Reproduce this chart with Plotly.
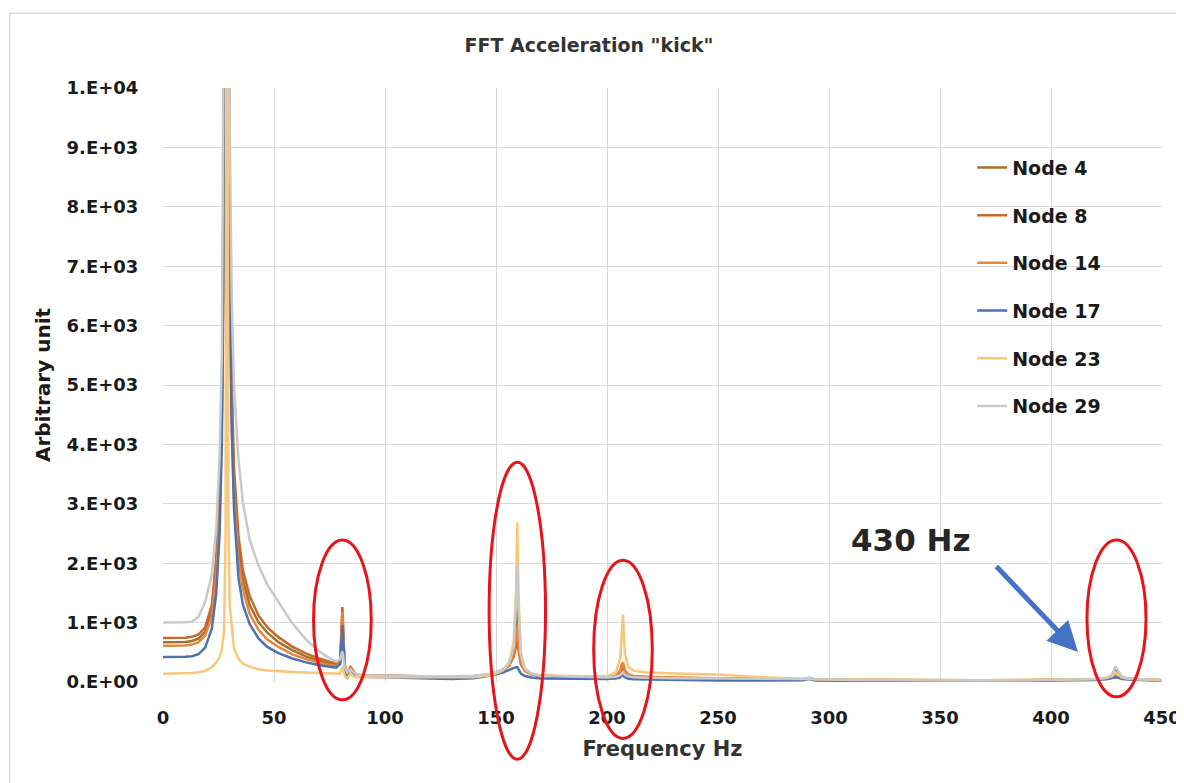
import plotly.graph_objects as go

# ---------------- data ----------------
freq_hz = [0, 5, 10, 13, 16, 19, 22, 24, 25.5, 26.5, 27.5, 28.2, 28.8, 29.4, 30, 31, 32, 34, 36, 39, 43, 47, 52, 58, 64, 70, 75, 78,
           79.8, 80.8, 81.8, 83, 84.5, 85.5, 87, 90,
           95, 100, 110, 120, 130, 140, 148, 153, 156, 158, 159, 159.6, 160.2, 161.2, 163, 166, 170, 180, 190, 200,
           204, 206, 206.6, 207.2, 208, 209.5, 212, 218,
           230, 250, 270, 288, 291, 294, 310, 330, 350, 370, 390, 410,
           420, 425, 427.5, 429, 430.5, 432, 435, 440, 450]

node_4 = [670, 670, 675, 690, 730, 850, 1200, 1950, 3000, 4600, 8200, 15000, 19000, 12500, 7500, 4600, 3300, 2250, 1720, 1300, 1010, 830, 670, 540, 435, 360, 310, 285,
          340, 1050, 270, 130, 250, 200, 120, 110,
          110, 105, 95, 90, 85, 95, 135, 200, 310, 520, 1000, 1500, 900, 380, 200, 135, 105, 90, 80, 70,
          90, 130, 180, 200, 140, 100, 80, 70,
          65, 55, 50, 45, 65, 40, 35, 30, 25, 25, 30, 35,
          45, 60, 110, 220, 150, 80, 55, 40, 30]

node_8 = [740, 740, 745, 760, 800, 920, 1300, 2100, 3200, 4800, 8500, 15000, 19000, 13000, 8000, 5000, 3600, 2450, 1880, 1450, 1120, 920, 755, 600, 485, 400, 340, 310,
          380, 1260, 300, 150, 240, 200, 125, 115,
          115, 110, 100, 90, 85, 95, 130, 190, 280, 430, 620, 700, 520, 300, 190, 130, 105, 90, 80, 78,
          100, 160, 230, 260, 170, 110, 90, 80,
          70, 60, 55, 45, 60, 40, 35, 30, 30, 30, 30, 40,
          50, 65, 95, 130, 110, 70, 55, 45, 30]

node_14 = [610, 610, 615, 630, 670, 780, 1100, 1800, 2800, 4400, 8000, 15000, 18000, 12000, 7000, 4300, 3100, 2050, 1560, 1150, 880, 715, 590, 470, 390, 330, 280, 260,
           330, 1180, 260, 120, 225, 180, 110, 105,
           105, 100, 95, 85, 80, 90, 130, 195, 290, 480, 800, 900, 650, 330, 190, 130, 105, 90, 80, 80,
           110, 200, 300, 330, 200, 130, 100, 90,
           75, 65, 55, 45, 60, 40, 35, 30, 30, 30, 35, 40,
           50, 60, 90, 120, 100, 65, 50, 40, 30]

node_17 = [420, 420, 425, 435, 470, 580, 900, 1500, 2500, 4000, 7500, 14000, 18000, 11000, 6500, 4200, 2900, 1750, 1300, 980, 735, 590, 485, 400, 335, 285, 255, 240,
           300, 960, 220, 60, 180, 140, 90, 90,
           85, 80, 70, 55, 50, 65, 110, 160, 210, 240, 250, 250, 200, 140, 100, 75, 60, 55, 50, 50,
           60, 80, 100, 110, 80, 55, 45, 40,
           30, 25, 25, 30, 50, 25, 20, 15, 15, 15, 20, 25,
           35, 45, 60, 80, 70, 50, 40, 30, 20]

node_23 = [140, 140, 145, 150, 165, 190, 250, 330, 420, 550, 850, 2500, 20000, 3000, 1300, 880, 560, 390, 310, 260, 215, 195, 180, 170, 160, 150, 140, 135,
           140, 260, 110, 60, 150, 100, 80, 80,
           80, 80, 75, 70, 70, 80, 115, 190, 320, 700, 1500, 2680, 1400, 500, 230, 140, 110, 100, 95, 100,
           160, 400, 800, 1140, 500, 260, 190, 160,
           145, 125, 80, 50, 55, 45, 40, 35, 30, 30, 35, 40,
           55, 70, 100, 160, 120, 75, 55, 45, 30]

node_29 = [1000, 1000, 1005, 1015, 1100, 1350, 1800, 2600, 3800, 5500, 9000, 16000, 21000, 15000, 9500, 6400, 5000, 3750, 3020, 2400, 1960, 1640, 1340, 1000, 730, 525, 400, 345,
           380, 520, 260, 160, 210, 170, 125, 115,
           110, 105, 100, 95, 95, 105, 140, 210, 330, 600, 1300, 2000, 1200, 450, 220, 140, 110, 95, 85, 75,
           90, 115, 145, 165, 125, 95, 80, 70,
           65, 60, 55, 50, 70, 45, 35, 30, 25, 25, 30, 35,
           45, 65, 120, 260, 180, 90, 60, 45, 30]

series_names = ["Node 4", "Node 8", "Node 14", "Node 17", "Node 23", "Node 29"]
series_values = [node_4, node_8, node_14, node_17, node_23, node_29]
series_colors = ["#A4702A", "#C5692E", "#E8853D", "#4C72B0", "#F9C77A", "#C9C9C9"]

y_tick_values = [0, 1000, 2000, 3000, 4000, 5000, 6000, 7000, 8000, 9000, 10000]
y_tick_labels = ["0.E+00", "1.E+03", "2.E+03", "3.E+03", "4.E+03", "5.E+03",
                 "6.E+03", "7.E+03", "8.E+03", "9.E+03", "1.E+04"]
x_tick_values = [0, 50, 100, 150, 200, 250, 300, 350, 400, 450]

# highlighted peaks: (centre Hz, half width Hz, bottom value, top value)
highlight_ellipses = [(80.8, 13.0, -300, 2390), (159.6, 12.7, -1300, 3700),
                      (207.2, 13.2, -950, 2050), (429.5, 13.3, -250, 2390)]

X_MAX, Y_MAX = 450, 10000

FONT = "DejaVu Sans"

fig = go.Figure()
for name, vals, col in zip(series_names, series_values, series_colors):
    fig.add_trace(go.Scatter(x=freq_hz, y=vals, mode="lines", name=name,
                             legendgroup=name,
                             line=dict(color=col, width=2.5)))

shapes = []
for (fc, hw, lo, hi) in highlight_ellipses:
    shapes.append(dict(type="circle", xref="paper", yref="paper",
                       x0=(fc - hw) / X_MAX, x1=(fc + hw) / X_MAX,
                       y0=lo / Y_MAX, y1=hi / Y_MAX,
                       line=dict(color="#E8141A", width=3), layer="above"))
# outer chart frame
shapes.append(dict(type="rect", xref="paper", yref="paper",
                   x0=-0.1535, x1=1.03, y0=-0.19, y1=1.126,
                   line=dict(color="#D9D9D9", width=1.5), layer="below"))

fig.update_layout(
    width=1176, height=775, autosize=False,
    margin=dict(l=155, r=22, t=80, b=101),
    paper_bgcolor="white", plot_bgcolor="white",
    title=dict(text="FFT Acceleration \"kick\"", x=(589 - 163) / 999, xref="paper", xanchor="center",
               y=0.952, yref="container", yanchor="middle",
               font=dict(family=FONT, size=19, color="#333333", weight="bold")),
    xaxis=dict(range=[0, X_MAX], tickvals=x_tick_values, showgrid=True, automargin=False,
               gridcolor="#D9D9D9", gridwidth=1, zeroline=False, showline=False,
               ticks="outside", ticklen=19, tickcolor="rgba(0,0,0,0)",
               tickfont=dict(family=FONT, size=18, color="#1a1a1a", weight="bold"),
               title=dict(text="Frequency Hz", standoff=14,
                          font=dict(family=FONT, size=21, color="#333333", weight="bold"))),
    yaxis=dict(range=[0, Y_MAX], tickvals=y_tick_values, ticktext=y_tick_labels,
               showgrid=True, gridcolor="#D9D9D9", gridwidth=1, zeroline=False, automargin=False,
               showline=False, ticks="outside", ticklen=20, tickcolor="rgba(0,0,0,0)",
               tickfont=dict(family=FONT, size=18, color="#1a1a1a", weight="bold"),
               title=dict(text="Arbitrary unit", standoff=10,
                          font=dict(family=FONT, size=20, color="#1a1a1a", weight="bold"))),
    legend=dict(x=0.81, y=0.898, xanchor="left", yanchor="top",
                bgcolor="rgba(255,255,255,0)", borderwidth=0,
                tracegroupgap=20, itemwidth=30,
                font=dict(family=FONT, size=19, color="#1a1a1a", weight="bold")),
    showlegend=True,
    shapes=shapes,
    annotations=[
        dict(x=(1078 - 163) / 999, y=(682 - 652) / 594, xref="paper", yref="paper",
             ax=-83, ay=-87, axref="pixel", ayref="pixel",
             showarrow=True, arrowhead=2, arrowsize=1.2, arrowwidth=5,
             arrowcolor="#4472C4", text=""),
        dict(x=(911 - 163) / 999, y=(682 - 540) / 594, xref="paper", yref="paper",
             text="430 Hz", showarrow=False, xanchor="center", yanchor="middle",
             font=dict(family=FONT, size=31, color="#262626", weight="bold")),
    ],
)

fig.write_html("out.html")
